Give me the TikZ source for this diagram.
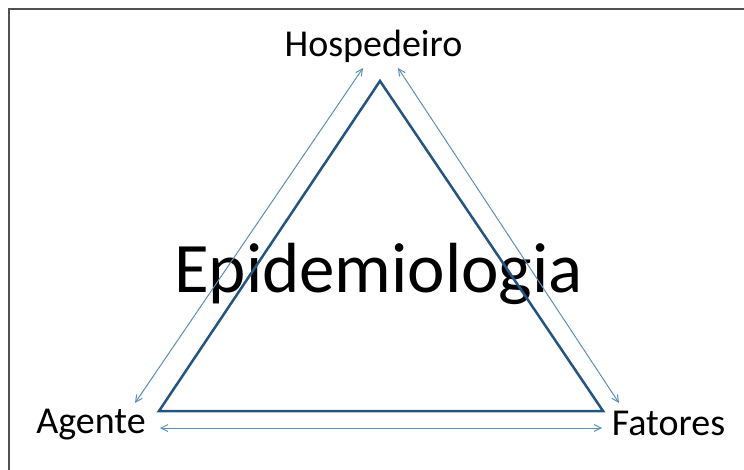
\documentclass[tikz,border=0pt]{standalone}
\usepackage{fontspec}
\setmainfont{Carlito}
\usetikzlibrary{arrows.meta}
\definecolor{Edge}{HTML}{24557F}
\definecolor{Link}{HTML}{5A8FB8}
\definecolor{Frame}{HTML}{505050}

\begin{document}
\begin{tikzpicture}[
  x=1pt,y=-1pt,
  tag/.style={inner sep=0pt,anchor=base,font=\fontsize{38}{40}\selectfont},
  headline/.style={inner sep=0pt,anchor=base,font=\fontsize{71}{74}\selectfont},
  side/.style={draw=Edge,line width=2.5pt,line join=miter},
  link/.style={{Straight Barb[length=2.4mm,width=2.4mm]}-{Straight Barb[length=2.4mm,width=2.4mm]},draw=Link,line width=1pt}
]
\useasboundingbox (0,0) rectangle (744,470);
% frame (left and top only)
\draw[Frame,line width=2pt] (8.5,470) -- (8.5,9) -- (744,9);

\node[tag] (host) at (373.5,57) {Hospedeiro};
\node[tag] (agent) at (91,433) {Agente};
\node[tag] (factor) at (668.5,435) {Fatores};
\node[headline] (epi) at (378.5,293) {Epidemiologia};

% triangle
\coordinate (top) at (380,81);
\coordinate (bl) at (159,411);
\coordinate (br) at (603,411);
\draw[side] (top) -- (br) -- (bl) -- cycle;

% arrow ends
\coordinate (hostL) at (363,68);
\coordinate (hostR) at (398,68);
\coordinate (agentT) at (135,403);
\coordinate (agentR) at (160,428);
\coordinate (factorT) at (619,403);
\coordinate (factorL) at (602,428);
\draw[link] (hostL) -- (agentT);
\draw[link] (hostR) -- (factorT);
\draw[link] (agentR) -- (factorL);
\end{tikzpicture}
\end{document}
